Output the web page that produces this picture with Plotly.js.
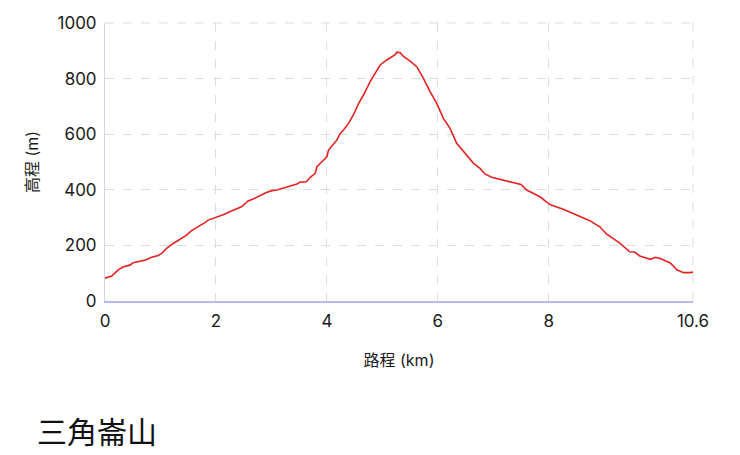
<!DOCTYPE html>
<html>
<head>
<meta charset="utf-8">
<script src="https://cdn.plot.ly/plotly-3.0.1.min.js"></script>
<style>
  html, body { margin: 0; padding: 0; background: #ffffff; }
  #chart { width: 740px; height: 455px; }
</style>
</head>
<body>
<div id="chart"></div>
<script>
// =====================
// DATA
// =====================
const distKm = [
  0.00, 0.12, 0.24, 0.33, 0.45, 0.51, 0.63, 0.72, 0.84, 0.96,
  1.02, 1.11, 1.23, 1.38, 1.47, 1.56, 1.71, 1.80, 1.86, 2.01,
  2.13, 2.25, 2.37, 2.46, 2.52, 2.58, 2.67, 2.79, 2.91, 3.01,
  3.10, 3.19, 3.28, 3.37, 3.46, 3.52, 3.61, 3.64, 3.70, 3.79,
  3.82, 3.91, 4.00, 4.03, 4.09, 4.18, 4.24, 4.30, 4.39, 4.48,
  4.57, 4.66, 4.78, 4.90, 4.96, 5.08, 5.17, 5.23, 5.26, 5.32,
  5.38, 5.44, 5.50, 5.62, 5.74, 5.86, 5.98, 6.10, 6.22, 6.34,
  6.49, 6.64, 6.76, 6.85, 6.97, 7.18, 7.36, 7.50, 7.60, 7.84,
  8.02, 8.26, 8.50, 8.74, 8.92, 9.04, 9.28, 9.40, 9.46, 9.55,
  9.64, 9.83, 9.92, 10.01, 10.19, 10.31, 10.43, 10.55, 10.60
];
const elevM = [
  82, 90, 112, 123, 129, 138, 143, 147, 157, 164,
  171, 189, 207, 225, 237, 253, 270, 282, 291, 301,
  310, 321, 331, 339, 349, 360, 367, 379, 390, 397,
  399, 405, 411, 415, 421, 428, 428, 431, 445, 459,
  483, 501, 519, 543, 559, 579, 603, 615, 639, 670,
  710, 741, 789, 830, 849, 867, 879, 886, 895, 893,
  880, 873, 863, 843, 801, 753, 711, 657, 621, 567,
  531, 496, 477, 457, 445, 434, 426, 419, 399, 375,
  347, 330, 309, 289, 267, 241, 208, 186, 177, 176,
  162, 150, 157, 153, 137, 112, 102, 102, 104
];

const xTickVals = [0, 2, 4, 6, 8, 10.6];
const xTickText = ["0", "2", "4", "6", "8", "10.6"];
const yTickVals = [0, 200, 400, 600, 800, 1000];

const chartTitle = "三角崙山";
const xTitle = "路程 (km)";
const yTitle = "高程 (m)";

// =====================
// TRACE
// =====================
const profile = {
  type: "scatter",
  mode: "lines",
  x: distKm,
  y: elevM,
  line: { color: "#e52222", width: 1.6 },
  hoverinfo: "x+y",
  showlegend: false
};

// =====================
// LAYOUT
// =====================
const cjk = "Inter, 'Noto Sans CJK TC', 'Noto Sans', sans-serif";

const layout = {
  width: 740,
  height: 455,
  margin: { l: 105, r: 47, t: 23, b: 154 },
  paper_bgcolor: "#ffffff",
  plot_bgcolor: "#ffffff",
  font: { family: cjk, color: "#1a1a1a", size: 17 },

  title: {
    text: chartTitle,
    xref: "container",
    yref: "container",
    x: 37 / 740,
    xanchor: "left",
    y: 1 - 432 / 455,
    yanchor: "middle",
    font: { family: cjk, size: 30, color: "#111111" }
  },

  xaxis: {
    range: [0, 10.6],
    tickmode: "array",
    tickvals: xTickVals,
    ticktext: xTickText,
    showgrid: true,
    gridcolor: "#dddddd",
    griddash: "dash",
    gridwidth: 1,
    zeroline: false,
    showline: true,
    linecolor: "#b9b9ea",
    linewidth: 2,
    ticks: "",
    ticklabelstandoff: 4,
    tickfont: { size: 17, color: "#1a1a1a" },
    title: { text: xTitle, font: { size: 16, color: "#1a1a1a" }, standoff: 24 }
  },
  yaxis: {
    range: [0, 1000],
    tickmode: "array",
    tickvals: yTickVals,
    showgrid: true,
    gridcolor: "#dddddd",
    griddash: "dash",
    gridwidth: 1,
    zeroline: false,
    showline: true,
    linecolor: "#d4d4f0",
    linewidth: 1,
    ticks: "",
    ticklabelstandoff: 4,
    tickfont: { size: 17, color: "#1a1a1a" },
    title: { text: yTitle, font: { size: 16, color: "#1a1a1a" }, standoff: 14 }
  },
  shapes: [
    { type: "line", xref: "paper", yref: "paper", x0: 1, x1: 1, y0: 0, y1: 1,
      line: { color: "#dddddd", width: 1, dash: "dash" } },
    { type: "line", xref: "paper", yref: "paper", x0: 0, x1: 1, y0: 1, y1: 1,
      line: { color: "#dddddd", width: 1, dash: "dash" } }
  ]
};

Plotly.newPlot("chart", [profile], layout, { displayModeBar: false, responsive: false });
</script>
</body>
</html>
